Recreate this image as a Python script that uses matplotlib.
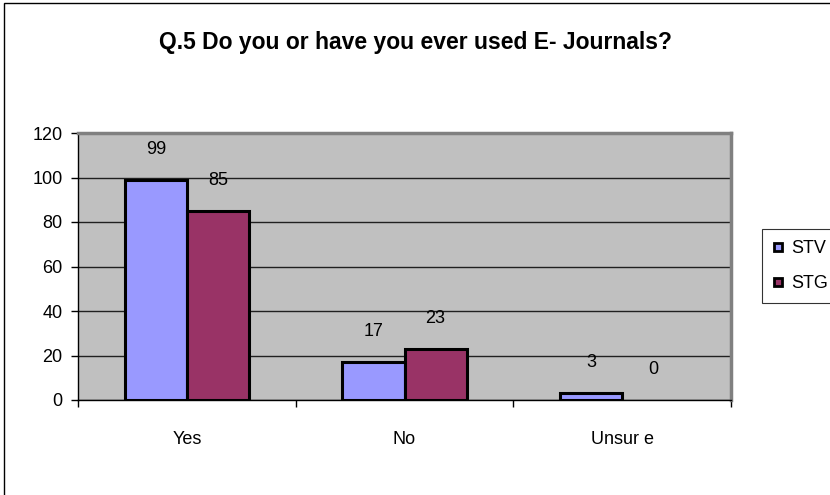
import numpy as np
import matplotlib.pyplot as plt
from matplotlib.lines import Line2D
from matplotlib.patches import Rectangle

plt.rcParams['font.family'] = ['Liberation Sans', 'DejaVu Sans']

# Data
categories = ['Yes', 'No', 'Unsur e']
stv = [99, 17, 3]
stg = [85, 23, 0]
series_names = ['STV', 'STG']
colors = ['#9999ff', '#993366']

fig = plt.figure(figsize=(8.3, 4.95), dpi=100)

# outer chart border
fig.patches.append(Rectangle((4 / 830, -0.01), 1.0, 1 - 3 / 495 + 0.01, transform=fig.transFigure,
                             fill=False, edgecolor='black', linewidth=1.0))

ax = fig.add_axes([78 / 830, 1 - 400 / 495, 653 / 830, 267 / 495])
ax.set_facecolor('#c0c0c0')

x = np.arange(len(categories))
w = 0.285
for i, (vals, c) in enumerate(zip([stv, stg], colors)):
    pos = x + (i - 0.5) * w
    lw = [2.2 if v > 0 else 0 for v in vals]
    ax.bar(pos, vals, width=w, color=c, edgecolor='black', linewidth=lw, zorder=3)
    for p, v in zip(pos, vals):
        ax.annotate(str(v), (p, v), xytext=(0, 22), textcoords='offset points',
                    ha='center', va='center', fontsize=13)

ax.set_xlim(-0.5, 2.5)
ax.set_ylim(0, 120)
ax.set_yticks(range(0, 121, 20))
ax.yaxis.grid(True, color='#202020', linewidth=1.0, zorder=1)
ax.set_axisbelow(True)

ax.set_xticks(x)
ax.set_xticklabels(categories, fontsize=13)
ax.tick_params(axis='x', which='major', length=0, pad=22)
ax.set_xticks([-0.5, 0.5, 1.5, 2.5], minor=True)
ax.tick_params(axis='x', which='minor', length=5, width=1, direction='out')
ax.tick_params(axis='y', length=5, width=1, direction='out', labelsize=13, pad=6)

for s in ['top', 'right']:
    ax.spines[s].set_color('#808080')
    ax.spines[s].set_linewidth(2.5)
ax.spines['left'].set_linewidth(1.0)
ax.spines['bottom'].set_linewidth(1.0)

fig.text(0.5, 1 - 43 / 495, 'Q.5 Do you or have you ever used E- Journals?',
         ha='center', va='center', fontsize=16.5, fontweight='bold')

handles = [Line2D([], [], marker='s', linestyle='none', markersize=6,
                  markerfacecolor=c, markeredgecolor='black', markeredgewidth=2)
           for c in colors]
leg = fig.legend(handles, series_names, loc='center left',
                 bbox_to_anchor=(762 / 830, 1 - 266 / 495), fontsize=13,
                 frameon=True, fancybox=False, edgecolor='black',
                 handlelength=0.6, handletextpad=0.4, labelspacing=1.0,
                 borderpad=0.6, borderaxespad=0)
leg.get_frame().set_linewidth(0.8)

fig.savefig('out.png', dpi=100)
